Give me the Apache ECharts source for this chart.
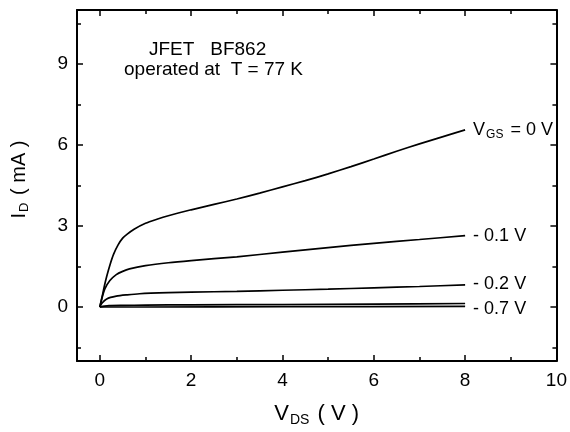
<!DOCTYPE html>
<html>
<head>
<meta charset="utf-8">
<script src="https://cdn.jsdelivr.net/npm/echarts@6/dist/echarts.min.js"></script>
<style>
  html, body { margin: 0; padding: 0; background: #fff; }
  #chart { width: 570px; height: 432px; }
</style>
</head>
<body>
<div id="chart"></div>
<script>
// Drain current I_D (mA) versus drain-source voltage V_DS (V), BF862 JFET at 77 K
const vdsVgs0   = [0, 0.05, 0.1, 0.15, 0.22, 0.3, 0.4, 0.5, 0.6, 0.75, 1.0, 1.25, 1.5, 2.0, 2.5, 3.0, 3.5, 4.0, 4.5, 5.0, 5.5, 6.0, 6.5, 7.0, 7.5, 8.0];
const idVgs0    = [0, 0.38, 0.78, 1.13, 1.55, 1.95, 2.3, 2.55, 2.7, 2.88, 3.1, 3.25, 3.38, 3.6, 3.8, 4.0, 4.22, 4.45, 4.68, 4.93, 5.2, 5.48, 5.77, 6.04, 6.3, 6.56];

const vdsVgs01  = [0, 0.05, 0.11, 0.22, 0.36, 0.5, 0.65, 1.0, 1.5, 2.0, 3.0, 4.0, 5.0, 6.0, 7.0, 8.0];
const idVgs01   = [0, 0.35, 0.67, 0.98, 1.2, 1.32, 1.41, 1.53, 1.64, 1.72, 1.86, 2.03, 2.2, 2.36, 2.5, 2.64];

const vdsVgs02  = [0, 0.05, 0.15, 0.36, 0.6, 0.87, 1.5, 2.0, 3.0, 4.0, 5.0, 6.0, 7.0, 8.0];
const idVgs02   = [0, 0.15, 0.3, 0.4, 0.45, 0.49, 0.53, 0.55, 0.58, 0.62, 0.66, 0.71, 0.76, 0.82];

const vdsVgsMid = [0, 0.1, 0.2, 0.5, 1.0, 2.0, 4.0, 6.0, 8.0];
const idVgsMid  = [0, 0.03, 0.05, 0.06, 0.07, 0.08, 0.09, 0.11, 0.13];

const vdsVgs07  = [0, 1.0, 4.0, 8.0];
const idVgs07   = [0, 0.0, 0.01, 0.02];

const xMajorTicks = [0, 2, 4, 6, 8, 10];
const xMinorTicks = [1, 3, 5, 7, 9];
const yMajorTicks = [0, 3, 6, 9];
const yMinorTicks = [-1.5, 1.5, 4.5, 7.5, 10.5];

const FONT = 'Liberation Sans, Arial, sans-serif';

function pairs(xs, ys) { return xs.map((x, i) => [x, ys[i]]); }

function xAx(position, ticks, len, labels, line) {
  return {
    type: 'value', position: position, min: -0.5, max: 10,
    axisLine: { show: line, onZero: false, lineStyle: { color: '#000', width: 2 } },
    axisTick: { show: true, inside: true, length: len, customValues: ticks, lineStyle: { color: '#000', width: 1.5 } },
    axisLabel: labels
      ? { show: true, customValues: ticks, margin: 10, color: '#000', fontSize: 19, fontFamily: FONT }
      : { show: false },
    splitLine: { show: false }
  };
}
function yAx(position, ticks, len, labels, line) {
  return {
    type: 'value', position: position, min: -2, max: 11,
    axisLine: { show: line, onZero: false, lineStyle: { color: '#000', width: 2 } },
    axisTick: { show: true, inside: true, length: len, customValues: ticks, lineStyle: { color: '#000', width: 1.5 } },
    axisLabel: labels
      ? { show: true, customValues: ticks, margin: 9, color: '#000', fontSize: 19, fontFamily: FONT }
      : { show: false },
    splitLine: { show: false }
  };
}

const xAxes = [
  xAx('bottom', xMajorTicks, 6, true, true),
  xAx('bottom', xMinorTicks, 4, false, false),
  xAx('top', xMajorTicks, 6, false, true),
  xAx('top', xMinorTicks, 4, false, false)
];
xAxes[0].name = '{v|V}{s|DS}{v| ( V )}';
xAxes[0].nameLocation = 'middle';
xAxes[0].nameGap = 40;
xAxes[0].nameTextStyle = {
  color: '#000', fontFamily: FONT,
  rich: {
    v: { fontSize: 22, fontFamily: FONT, color: '#000' },
    s: { fontSize: 14, fontFamily: FONT, color: '#000', padding: [12, 2, 0, 1] }
  }
};

const yAxes = [
  yAx('left', yMajorTicks, 6, true, true),
  yAx('left', yMinorTicks, 4, false, false),
  yAx('right', yMajorTicks, 6, false, true),
  yAx('right', yMinorTicks, 4, false, false)
];
yAxes[0].name = '{v|I}{s|D}{v| ( mA )}';
yAxes[0].nameLocation = 'middle';
yAxes[0].nameRotate = 90;
yAxes[0].nameGap = 46;
yAxes[0].nameTextStyle = {
  color: '#000', fontFamily: FONT,
  padding: [0, 0, 0, 12],
  rich: {
    v: { fontSize: 20, fontFamily: FONT, color: '#000' },
    s: { fontSize: 13, fontFamily: FONT, color: '#000', padding: [11, 2, 0, 1] }
  }
};

const labelRich = {
  v: { fontSize: 18, fontFamily: FONT, color: '#000' },
  s: { fontSize: 12, fontFamily: FONT, color: '#000', padding: [9, 2, 0, 1] }
};

function curve(name, xs, ys, labelText, dy) {
  const s = {
    type: 'line', name: name, data: pairs(xs, ys),
    xAxisIndex: 0, yAxisIndex: 0,
    showSymbol: false, symbol: 'none', smooth: 0.25,
    lineStyle: { color: '#000', width: 1.7 },
    silent: true, z: 3
  };
  if (labelText) {
    s.endLabel = {
      show: true, formatter: labelText, distance: 8, offset: [0, dy || 0],
      color: '#000', fontSize: 18, fontFamily: FONT, rich: labelRich
    };
  }
  return s;
}

const chart = echarts.init(document.getElementById('chart'), null, { renderer: 'canvas' });
chart.setOption({
  animation: false,
  backgroundColor: '#fff',
  grid: { left: 77, right: 12, top: 10, bottom: 69, containLabel: false },
  xAxis: xAxes,
  yAxis: yAxes,
  graphic: [
    { type: 'text', left: 149, top: 40, style: { text: 'JFET   BF862', fontSize: 19, fontFamily: FONT, fill: '#000' } },
    { type: 'text', left: 124, top: 60, style: { text: 'operated at  T = 77 K', fontSize: 19, fontFamily: FONT, fill: '#000' } }
  ],
  series: [
    curve('VGS 0 V', vdsVgs0, idVgs0, '{v|V}{s|GS}{v| = 0 V}', 0),
    curve('VGS -0.1 V', vdsVgs01, idVgs01, '{v|- 0.1 V}', 0),
    curve('VGS -0.2 V', vdsVgs02, idVgs02, '{v|- 0.2 V}', -1),
    curve('VGS mid', vdsVgsMid, idVgsMid, null, 0),
    curve('VGS -0.7 V', vdsVgs07, idVgs07, '{v|- 0.7 V}', 3)
  ]
});
</script>
</body>
</html>
